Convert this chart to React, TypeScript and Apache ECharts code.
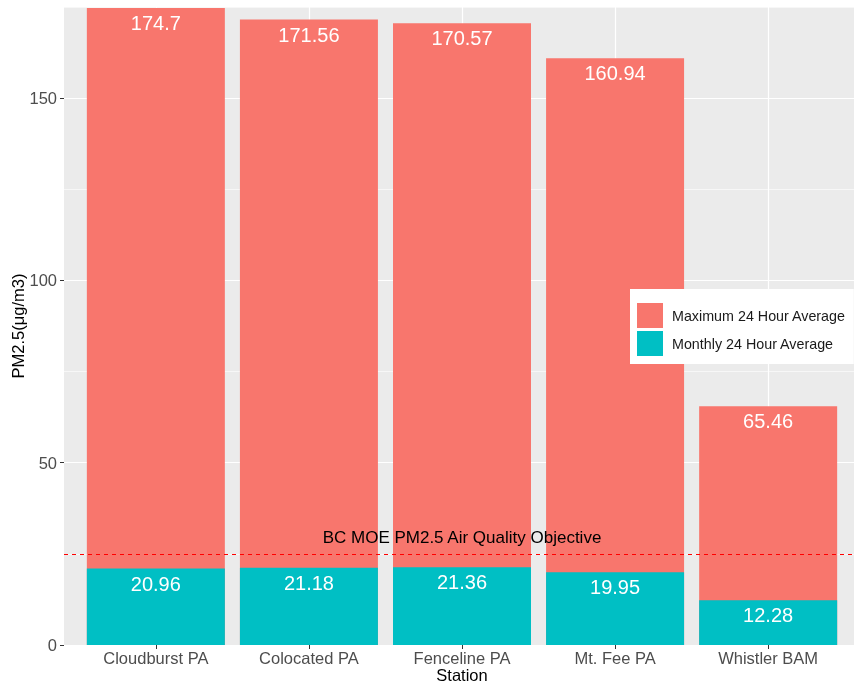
import React, { useEffect, useRef } from 'react';
import * as echarts from 'echarts';

const stations = ['Cloudburst PA', 'Colocated PA', 'Fenceline PA', 'Mt. Fee PA', 'Whistler BAM'];
const maxValues = [174.7, 171.56, 170.57, 160.94, 65.46];
const monthlyValues = [20.96, 21.18, 21.36, 19.95, 12.28];
const yTickValues = [0, 50, 100, 150];
const xTickValues = [0, 1, 2, 3, 4];
const objectiveValue = 25;
const objectiveLabel = 'BC MOE PM2.5 Air Quality Objective';
const seriesNames = ['Maximum 24 Hour Average', 'Monthly 24 Hour Average'];

const FONT = '"Liberation Sans", Arial, Helvetica, sans-serif';

export default function App() {
  const ref = useRef<HTMLDivElement>(null);
  useEffect(() => {
    if (!ref.current) return;
    const chart = echarts.init(ref.current, undefined, { renderer: 'svg' });
    const valueLabel = {
      show: true,
      position: 'insideTop',
      distance: 5,
      color: '#FFFFFF',
      fontSize: 20,
      fontFamily: FONT,
    };
    chart.setOption({
      animation: false,
      textStyle: { fontFamily: FONT },
      grid: {
        left: 64,
        right: -6,
        top: 7,
        bottom: 38,
        show: true,
        backgroundColor: '#EBEBEB',
        borderWidth: 0,
        containLabel: false,
        outerBoundsMode: 'none',
      },
      legend: {
        orient: 'vertical',
        left: 630,
        top: 289,
        backgroundColor: '#FFFFFF',
        padding: [14, 8, 8, 7],
        itemGap: 3,
        itemWidth: 26,
        itemHeight: 25,
        icon: 'rect',
        textStyle: { fontSize: 14.3, color: '#1A1A1A', fontFamily: FONT, padding: [0, 0, 0, 4] },
        data: seriesNames,
        selectedMode: false,
      },
      xAxis: {
        type: 'value',
        min: -0.6,
        max: 4.6,
        name: 'Station',
        nameLocation: 'middle',
        nameGap: 22,
        nameMoveOverlap: false,
        nameTextStyle: { fontSize: 16.5, lineHeight: 16, color: '#000000', fontFamily: FONT },
        axisLine: { show: false },
        axisTick: { show: true, customValues: xTickValues, length: 4, lineStyle: { color: '#333333', width: 1 } },
        axisLabel: {
          customValues: xTickValues,
          formatter: (v: number) => stations[Math.round(v)],
          fontSize: 16.5,
          lineHeight: 16,
          color: '#4D4D4D',
          margin: 5,
          fontFamily: FONT,
        },
        splitLine: { show: true, lineStyle: { color: '#FFFFFF', width: 1.2 } },
      },
      yAxis: [
        {
          type: 'value',
          min: 0,
          max: 175,
          interval: 25,
          axisLine: { show: false },
          axisTick: { show: false },
          axisLabel: { show: false },
          splitLine: { show: true, lineStyle: { color: '#FFFFFF', width: 0.6 } },
        },
        {
          type: 'value',
          min: 0,
          max: 175,
          position: 'left',
          name: 'PM2.5(μg/m3)',
          nameLocation: 'middle',
          nameRotate: 90,
          nameGap: 38,
          nameMoveOverlap: false,
          nameTextStyle: { fontSize: 16.5, color: '#000000', fontFamily: FONT },
          axisLine: { show: false },
          axisTick: { show: true, customValues: yTickValues, length: 4, lineStyle: { color: '#333333', width: 1 } },
          axisLabel: { customValues: yTickValues, fontSize: 16.5, color: '#4D4D4D', margin: 7, fontFamily: FONT },
          splitLine: { show: true, lineStyle: { color: '#FFFFFF', width: 1.2 } },
        },
      ],
      series: [
        {
          name: seriesNames[0],
          type: 'bar',
          yAxisIndex: 0,
          barWidth: 138,
          barGap: '-100%',
          itemStyle: { color: '#F8766D' },
          data: maxValues.map((v, i) => [i, v]),
          label: { ...valueLabel, formatter: (p: any) => String(maxValues[p.dataIndex]) },
        },
        {
          name: seriesNames[1],
          type: 'bar',
          yAxisIndex: 0,
          barWidth: 138,
          barGap: '-100%',
          itemStyle: { color: '#00BFC4' },
          data: monthlyValues.map((v, i) => [i, v]),
          label: { ...valueLabel, formatter: (p: any) => String(monthlyValues[p.dataIndex]) },
          markLine: {
            silent: true,
            symbol: 'none',
            data: [{ yAxis: objectiveValue }],
            lineStyle: { color: '#FF0000', type: [4, 4], width: 1.2 },
            label: {
              show: true,
              position: 'insideMiddleTop',
              formatter: objectiveLabel,
              color: '#000000',
              fontSize: 17,
              distance: 8,
              fontFamily: FONT,
            },
          },
        },
      ],
    });
    return () => chart.dispose();
  }, []);
  return <div ref={ref} style={{ position: 'fixed', left: 0, top: 0, width: 854, height: 683 }} />;
}
